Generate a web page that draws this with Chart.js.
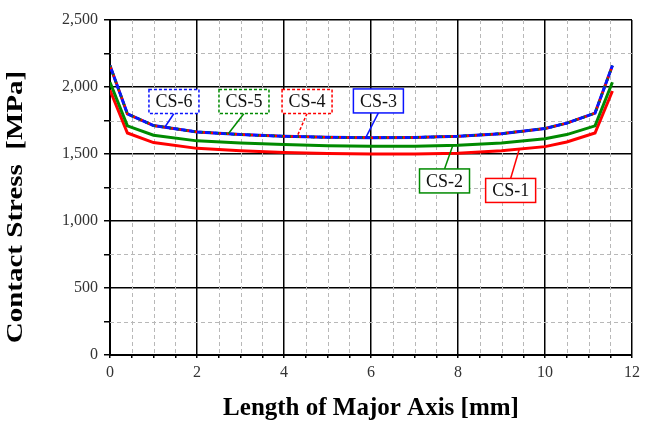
<!DOCTYPE html>
<html>
<head>
<meta charset="utf-8">
<script src="https://cdn.jsdelivr.net/npm/chart.js@4.4.1/dist/chart.umd.min.js"></script>
<style>
  html, body { margin: 0; padding: 0; background: #fff; }
  #wrap { width: 645px; height: 421px; position: relative; }
</style>
</head>
<body>
<div id="wrap"><canvas id="stressChart"></canvas></div>
<script>
// positions along the major axis [mm]
const axisPos = [0, 0.4, 1, 2, 3, 4, 5, 6, 7, 8, 9, 10, 10.5, 11.15, 11.55];

// contact stress [MPa]
const cs1 = [1978, 1657, 1585, 1542, 1525, 1512, 1503, 1500, 1500, 1505, 1525, 1555, 1590, 1657, 1970];
const cs2 = [2035, 1710, 1640, 1598, 1582, 1570, 1562, 1558, 1558, 1565, 1582, 1614, 1645, 1710, 2035];
const cs3 = [2160, 1800, 1712, 1665, 1645, 1632, 1625, 1622, 1624, 1632, 1652, 1690, 1730, 1805, 2160];
const cs4 = [2160, 1800, 1712, 1665, 1645, 1632, 1625, 1622, 1624, 1632, 1652, 1690, 1730, 1805, 2160];
const cs5 = [2160, 1800, 1712, 1665, 1645, 1632, 1625, 1622, 1624, 1632, 1652, 1690, 1730, 1805, 2160];
const cs6 = [2160, 1800, 1712, 1665, 1645, 1632, 1625, 1622, 1624, 1632, 1652, 1690, 1730, 1805, 2160];

const seriesNames = ['CS-1', 'CS-2', 'CS-3', 'CS-4', 'CS-5', 'CS-6'];

// callout labels: box centre (x mm, y MPa) and where the leader meets the curve (x mm)
const calloutSeries = [5, 4, 3, 2, 1, 0];
const calloutBoxX = [1.47, 3.08, 4.53, 6.17, 7.69, 9.21];
const calloutBoxY = [1892, 1892, 1892, 1896, 1299, 1228];
const calloutAnchorX = [1.26, 2.72, 4.30, 5.88, 7.88, 9.41];

const yTitle = 'Contact Stress  [MPa]';

const RED = '#ff0000';
const GREEN = '#008a00';
const BLUE = '#0a14ff';
const SERIF = '"Liberation Serif", "DejaVu Serif", serif';

function toPoints(ys) {
    return axisPos.map((x, i) => ({ x: x, y: ys[i] }));
}

function interp(ys, x) {
    for (let i = 0; i < axisPos.length - 1; i++) {
        if (x >= axisPos[i] && x <= axisPos[i + 1]) {
            const t = (x - axisPos[i]) / (axisPos[i + 1] - axisPos[i]);
            return ys[i] + t * (ys[i + 1] - ys[i]);
        }
    }
    return ys[ys.length - 1];
}

// dashed minor grid (every 0.5 mm / 250 MPa)
const minorGrid = {
    id: 'minorGrid',
    beforeDatasetsDraw(chart) {
        const { ctx, chartArea: a, scales: { x, y } } = chart;
        ctx.save();
        ctx.strokeStyle = '#b8b8b8';
        ctx.lineWidth = 1;
        ctx.setLineDash([4, 3]);
        for (let v = 0.5; v < 12; v += 0.5) {
            if (v % 2 === 0) continue;
            const px = Math.round(x.getPixelForValue(v)) + 0.5;
            ctx.beginPath();
            ctx.moveTo(px, a.top);
            ctx.lineTo(px, a.bottom);
            ctx.stroke();
        }
        for (let v = 250; v < 2500; v += 250) {
            if (v % 500 === 0) continue;
            const py = Math.round(y.getPixelForValue(v)) + 0.5;
            ctx.beginPath();
            ctx.moveTo(a.left, py);
            ctx.lineTo(a.right, py);
            ctx.stroke();
        }
        ctx.restore();
    }
};

// y axis title, a bit narrow like the original figure, sitting slightly low
const yTitlePlugin = {
    id: 'yTitle',
    afterDraw(chart) {
        const { ctx } = chart;
        ctx.save();
        ctx.translate(16, 207);
        ctx.rotate(-Math.PI / 2);
        ctx.scale(1, 0.8);
        ctx.font = 'bold 29px ' + SERIF;
        ctx.fillStyle = '#000';
        ctx.textAlign = 'center';
        ctx.textBaseline = 'middle';
        ctx.fillText(yTitle, 0, 0);
        ctx.restore();
    }
};

// boxed series labels with leader lines
const callouts = {
    id: 'callouts',
    afterDatasetsDraw(chart) {
        const { ctx, scales: { x, y } } = chart;
        const bw = 50, bh = 24;
        ctx.save();
        calloutSeries.forEach((si, i) => {
            const ds = chart.data.datasets[si];
            const ys = ds.data.map(p => p.y);
            const cx = x.getPixelForValue(calloutBoxX[i]);
            const cy = y.getPixelForValue(calloutBoxY[i]);
            const ax = x.getPixelForValue(calloutAnchorX[i]);
            const ay = y.getPixelForValue(interp(ys, calloutAnchorX[i]));
            const dashed = si >= 3;
            ctx.strokeStyle = ds.borderColor;
            ctx.lineWidth = 1.5;
            ctx.setLineDash(si === 3 ? [3, 2] : []);
            ctx.beginPath();
            ctx.moveTo(cx, ay > cy ? cy + bh / 2 : cy - bh / 2);
            ctx.lineTo(ax, ay);
            ctx.stroke();
            ctx.setLineDash(dashed ? [3, 2] : []);
            ctx.fillStyle = '#fff';
            ctx.fillRect(cx - bw / 2, cy - bh / 2, bw, bh);
            ctx.strokeRect(cx - bw / 2, cy - bh / 2, bw, bh);
            ctx.setLineDash([]);
            ctx.fillStyle = '#111';
            ctx.font = '18px ' + SERIF;
            ctx.textAlign = 'center';
            ctx.textBaseline = 'middle';
            ctx.fillText(seriesNames[si], cx, cy + 1);
        });
        ctx.restore();
    }
};

const ctx = document.getElementById('stressChart').getContext('2d');
new Chart(ctx, {
    type: 'line',
    data: {
        datasets: [
            { label: 'CS-1', data: toPoints(cs1), borderColor: RED, borderWidth: 3, order: 5 },
            { label: 'CS-2', data: toPoints(cs2), borderColor: GREEN, borderWidth: 3, order: 4 },
            { label: 'CS-3', data: toPoints(cs3), borderColor: BLUE, borderWidth: 3, order: 3 },
            { label: 'CS-4', data: toPoints(cs4), borderColor: RED, borderWidth: 2.5, borderDash: [4, 4], borderDashOffset: 0, order: 2 },
            { label: 'CS-5', data: toPoints(cs5), borderColor: GREEN, borderWidth: 2.5, borderDash: [4, 4], borderDashOffset: 2, order: 1 },
            { label: 'CS-6', data: toPoints(cs6), borderColor: BLUE, borderWidth: 2.5, borderDash: [5, 3], borderDashOffset: 4, order: 0 }
        ].map(d => Object.assign(d, { pointRadius: 0, fill: false, tension: 0 }))
    },
    options: {
        responsive: true,
        maintainAspectRatio: false,
        animation: false,
        layout: { padding: { top: 20, right: 9, left: 0, bottom: 0 } },
        plugins: {
            legend: { display: false },
            tooltip: { enabled: false }
        },
        scales: {
            x: {
                type: 'linear',
                min: 0,
                max: 12,
                afterFit: s => { s.height = 66; },
                ticks: {
                    stepSize: 0.5,
                    autoSkip: false,
                    maxRotation: 0,
                    padding: 5,
                    color: '#333',
                    font: { family: SERIF, size: 16 },
                    callback: v => (v % 2 === 0 ? String(v) : '')
                },
                grid: {
                    color: c => (c.tick && c.tick.value % 2 === 0 ? '#000' : 'rgba(0,0,0,0)'),
                    lineWidth: 1.5,
                    tickColor: '#000',
                    tickLength: c => (c.tick && c.tick.value % 2 === 0 ? 6 : 3)
                },
                border: { color: '#000', width: 2 },
                title: {
                    display: true,
                    text: 'Length of Major Axis [mm]',
                    color: '#000',
                    font: { family: SERIF, size: 25, weight: 'bold', lineHeight: 1 },
                    padding: { top: 0, bottom: 0 }
                }
            },
            y: {
                min: 0,
                max: 2500,
                afterFit: s => { s.width = 110; },
                ticks: {
                    stepSize: 250,
                    autoSkip: false,
                    padding: 6,
                    color: '#333',
                    font: { family: SERIF, size: 16 },
                    callback: v => (v % 500 === 0 ? v.toLocaleString('en-US') : '')
                },
                grid: {
                    color: c => (c.tick && c.tick.value % 500 === 0 ? '#000' : 'rgba(0,0,0,0)'),
                    lineWidth: 1.5,
                    tickColor: '#000',
                    tickLength: 6
                },
                border: { color: '#000', width: 2 },
                title: { display: false }
            }
        }
    },
    plugins: [minorGrid, callouts, yTitlePlugin]
});
</script>
</body>
</html>
